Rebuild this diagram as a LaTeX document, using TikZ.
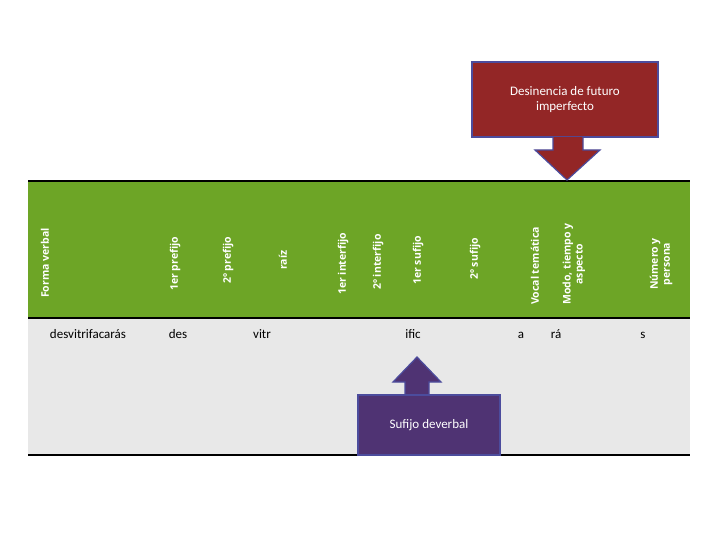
\documentclass[tikz,border=0pt]{standalone}
\usepackage{fontspec}
\setmainfont{Carlito}
\newfontfamily\headfont{Open Sans}
\begin{document}
\begin{tikzpicture}[x=1pt,y=-1pt,
    colhead/.style={rotate=90,anchor=west,font=\headfont\bfseries\fontsize{10.5}{12}\selectfont,text=white,align=center,inner sep=0pt},
    morph/.style={font=\fontsize{13}{15}\selectfont,anchor=base},
    callout/.style={draw=blue!45!black!70,line width=1.2pt,text=white,align=center,font=\fontsize{13}{15}\selectfont}]
    \useasboundingbox (0,0) rectangle (720,540);
    \fill[green!45!olive!60!lime!70!black!85] (28,181) rectangle (690,318);
    \fill[gray!18] (28,318) rectangle (690,455);
    \draw[line width=2pt] (28,181) -- (690,181);
    \draw[line width=2pt] (28,318) -- (690,318);
    \draw[line width=2pt] (28,455) -- (690,455);

    % column headings
    \node[colhead] (h1) at (45,298) {Forma verbal};
    \node[colhead] (h2) at (175,291) {1er prefijo};
    \node[colhead] (h3) at (228,284) {2º prefijo};
    \node[colhead] (h4) at (283,270) {raíz};
    \node[colhead] (h5) at (343,295) {1er interfijo};
    \node[colhead] (h6) at (378,290) {2º interfijo};
    \node[colhead] (h7) at (418,285) {1er sufijo};
    \node[colhead] (h8) at (475,280) {2º sufijo};
    \node[colhead] (h9) at (535,305) {Vocal temática};
    \node[colhead] (h10) at (574,305) {Modo, tiempo y\\aspecto};
    \node[colhead] (h11) at (661,290) {Número y\\persona};

    % morphemes
    \node[morph] (m1) at (88,338) {desvitrifacarás};
    \node[morph] (m2) at (178,338) {des};
    \node[morph] (m3) at (262,338) {vitr};
    \node[morph] (m4) at (413,338) {ific};
    \node[morph] (m5) at (521,338) {a};
    \node[morph] (m6) at (556,338) {rá};
    \node[morph] (m7) at (643,338) {s};

    % callouts
    \draw[callout,fill=red!50!black!85] (472,62) rectangle (658,137);
    \draw[callout,fill=red!50!black!85] (553,137) -- (553,150) -- (535,150) -- (567,180)
        -- (600,150) -- (583,150) -- (583,137);
    \node[callout,draw=none] (fut) at (565,100) {Desinencia de futuro\\imperfecto};

    \draw[callout,fill=violet!60!blue!45!black!80] (405,395) -- (405,382) -- (393,382) -- (417,357)
        -- (441,382) -- (429,382) -- (429,395);
    \draw[callout,fill=violet!60!blue!45!black!80] (358,395) rectangle (500,455);
    \node[callout,draw=none] (dev) at (429,425) {Sufijo deverbal};
\end{tikzpicture}
\end{document}
